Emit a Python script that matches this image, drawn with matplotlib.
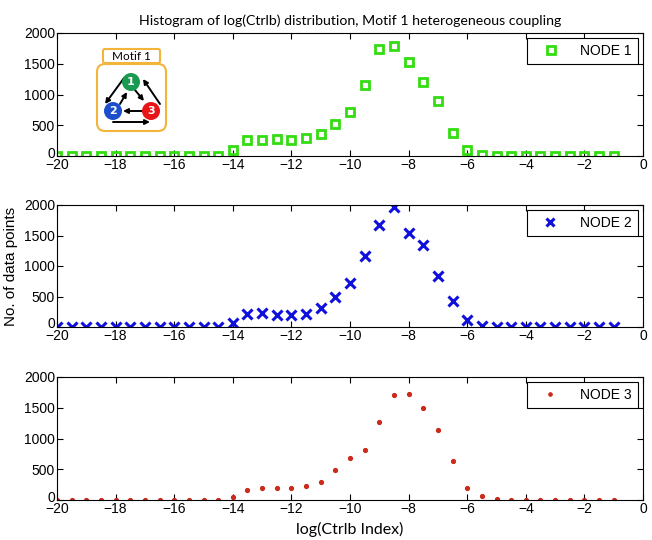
import matplotlib
matplotlib.use("Agg")
import matplotlib.pyplot as plt
import matplotlib.transforms as mtrans
from matplotlib.patches import Circle, FancyBboxPatch

# log(Ctrlb) bin centres
log_ctrlb = [-20, -19.5, -19, -18.5, -18, -17.5, -17, -16.5, -16, -15.5, -15, -14.5,
             -14, -13.5, -13, -12.5, -12, -11.5, -11, -10.5, -10, -9.5, -9, -8.5,
             -8, -7.5, -7, -6.5, -6, -5.5, -5, -4.5, -4, -3.5, -3, -2.5, -2, -1.5, -1]

node1_counts = [0, 0, 0, 0, 0, 0, 0, 0, 0, 0, 0, 0,
                90, 260, 265, 280, 260, 300, 360, 520, 720, 1150, 1740, 1790,
                1530, 1210, 890, 380, 90, 10, 0, 0, 0, 0, 0, 0, 0, 0, 0]
node2_counts = [0, 0, 0, 0, 0, 0, 0, 0, 0, 0, 0, 0,
                70, 210, 230, 190, 200, 220, 310, 500, 720, 1160, 1670, 1960,
                1540, 1340, 840, 420, 110, 10, 0, 0, 0, 0, 0, 0, 0, 0, 0]
node3_counts = [0, 0, 0, 0, 0, 0, 0, 0, 0, 0, 0, 0,
                50, 170, 190, 200, 200, 220, 300, 490, 690, 820, 1270, 1710,
                1730, 1490, 1140, 640, 190, 60, 20, 5, 0, 0, 0, 0, 0, 0, 0]

x_ticks = [-20, -18, -16, -14, -12, -10, -8, -6, -4, -2, 0]
y_ticks = [0, 500, 1000, 1500, 2000]

TICK_FONT = ["Liberation Sans Narrow", "Liberation Sans", "DejaVu Sans"]
TEXT_FONT = ["Lato", "DejaVu Sans"]

W, H = 652, 540
fig = plt.figure(figsize=(W / 100, H / 100), dpi=100)


def px_axes(x0, y0, x1, y1):
    return fig.add_axes([x0 / W, 1 - y1 / H, (x1 - x0) / W, (y1 - y0) / H])


def style_axis(ax):
    ax.set_xlim(-20, 0)
    ax.set_ylim(0, 2000)
    ax.set_xticks(x_ticks)
    ax.set_yticks(y_ticks)
    ax.tick_params(direction="in", top=True, right=True, length=4, width=0.8,
                   labelsize=10, pad=1.5)
    for lab in ax.get_xticklabels() + ax.get_yticklabels():
        lab.set_family(TICK_FONT)
    # lift the "0" y label a little so it sits clear of the -20 x label
    zero = ax.get_yticklabels()[0]
    zero.set_transform(zero.get_transform() +
                       mtrans.ScaledTranslation(0, 4 / 100, fig.dpi_scale_trans))
    for sp in ax.spines.values():
        sp.set_linewidth(0.8)


panels = [
    (33, 156, node1_counts, dict(marker="s", ms=6, mfc="none", mec="#33dd11", mew=2.0), "NODE 1"),
    (205, 327, node2_counts, dict(marker="x", ms=6.5, mec="#1010dd", mew=2.2), "NODE 2"),
    (377, 500, node3_counts, dict(marker=".", ms=5.5, mfc="#cc2a1a", mec="#cc2a1a"), "NODE 3"),
]

axes = []
for top, bot, counts, mstyle, label in panels:
    ax = px_axes(57, top, 643, bot)
    ax.plot(log_ctrlb, counts, ls="none", label=label, **mstyle)
    style_axis(ax)
    leg = ax.legend(loc="upper right", fancybox=False, edgecolor="black",
                    framealpha=1, borderaxespad=0.35, handlelength=2.5,
                    handletextpad=0.9, borderpad=0.45, markerscale=0.85,
                    prop={"family": TICK_FONT, "size": 10})
    leg.get_frame().set_linewidth(0.8)
    axes.append(ax)

axes[0].set_title("Histogram of log(Ctrlb) distribution, Motif 1 heterogeneous coupling",
                  family=TEXT_FONT, fontsize=10.2, pad=6)
axes[1].set_ylabel("No. of data points", family=["Liberation Sans", "DejaVu Sans"],
                   fontsize=11, labelpad=4)
axes[2].set_xlabel("log(Ctrlb Index)", family=TEXT_FONT, fontsize=11.5, labelpad=4)

# motif 1 inset, drawn in pixel units of the figure
ins = px_axes(95, 42, 170, 135)
ins.set_xlim(95, 170)
ins.set_ylim(135, 42)
ins.axis("off")

box_col = "#f2b43a"
ins.add_patch(FancyBboxPatch((97, 64), 69, 67, boxstyle="round,pad=0,rounding_size=8",
                             fc="white", ec=box_col, lw=1.5))
ins.add_patch(FancyBboxPatch((103, 49), 57, 14, boxstyle="round,pad=0,rounding_size=2",
                             fc="white", ec=box_col, lw=1.5))
ins.text(131.5, 56.5, "Motif 1", ha="center", va="center", fontsize=8.5, family=TEXT_FONT)

nodes = {1: (131, 82, "#1a9a50"), 2: (113, 111, "#1c4fcc"), 3: (151, 111, "#e81418")}
r = 9.0

# directed edges of the motif: (start, end)
edges = [
    ((124, 78), (105, 104)),   # 1 -> 2, outer
    ((160, 104), (143, 79)),   # 3 -> 1, outer
    ((120, 104), (127, 92)),   # 2 -> 1, inner
    ((135, 90), (144, 101)),   # 1 -> 3, inner
    ((142, 111), (123, 111)),  # 3 -> 2
    ((113, 122), (150, 122)),  # 2 -> 3, bottom
]
for p0, p1 in edges:
    ins.annotate("", xy=p1, xytext=p0,
                 arrowprops=dict(arrowstyle="-|>", lw=1.4, color="black",
                                 mutation_scale=7, shrinkA=0, shrinkB=0))

for k, (cx, cy, col) in nodes.items():
    ins.add_patch(Circle((cx, cy), r, fc=col, ec="none", zorder=3))
    ins.text(cx, cy, str(k), ha="center", va="center", color="white",
             fontsize=8, fontweight="bold", zorder=4)

fig.savefig("out.png", dpi=100)
